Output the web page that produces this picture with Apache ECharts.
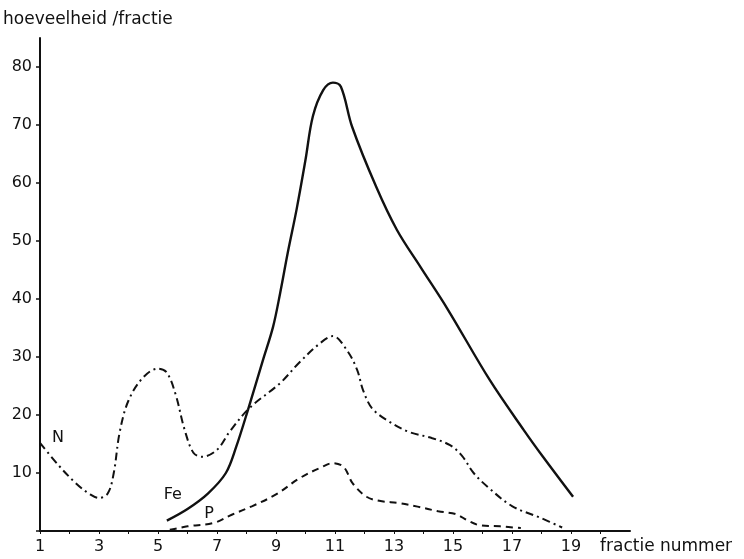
<!DOCTYPE html>
<html>
<head>
<meta charset="utf-8">
<script src="https://cdn.jsdelivr.net/npm/echarts@6/dist/echarts.min.js"></script>
<style>
  html, body { margin: 0; padding: 0; background: #fff; }
  #chart { width: 744px; height: 559px; }
</style>
</head>
<body>
<div id="chart"></div>
<script>
// Fraction number vs. amount per fraction for N, Fe and P
const feCurve = [
  [5.3, 1.8], [6.0, 3.8], [6.7, 6.5], [7.3, 10], [7.65, 14.5], [8.05, 20.9],
  [8.56, 29.5], [8.9, 35.2], [9.14, 41], [9.4, 48], [9.7, 55.5], [10.0, 64],
  [10.25, 71.5], [10.6, 76], [10.93, 77.3], [11.2, 76.6], [11.58, 69.7], [12.4, 59.3],
  [13.1, 51.9], [13.9, 45.5], [14.8, 38.4], [16.25, 26], [17.4, 17.4], [18.05, 12.8], [19.07, 5.9]
];
const nCurve = [
  [1, 15.2], [1.6, 11.5], [2.2, 8.3], [2.7, 6.3], [3.0, 5.7], [3.3, 6.5], [3.5, 10],
  [3.7, 17], [4.0, 22.5], [4.5, 26.5], [5.0, 28], [5.3, 27.3], [5.6, 23.5], [5.9, 17.5],
  [6.2, 13.5], [6.5, 12.8], [7.0, 14], [7.44, 17.2], [8.1, 21.2], [9.14, 25.5],
  [9.8, 29.1], [10.5, 32.4], [10.93, 33.6], [11.4, 31.2], [11.75, 27.8], [11.95, 24.3],
  [12.25, 21.2], [12.76, 19.1], [13.5, 17.1], [14.3, 16], [14.9, 14.8],
  [15.3, 13], [15.7, 10], [16.2, 7.5], [17.0, 4.3], [18.0, 2.2], [18.7, 0.6]
];
const pCurve = [
  [5.4, 0.2], [6.0, 0.8], [6.9, 1.4], [7.5, 2.8], [8.2, 4.3], [9.0, 6.3], [9.8, 9.1],
  [10.5, 10.9], [10.93, 11.7], [11.3, 11], [11.6, 8.2], [12.07, 5.9], [12.5, 5.2],
  [13.2, 4.8], [13.8, 4.2], [14.5, 3.4], [15.1, 2.9], [15.5, 1.8], [15.9, 1], [16.6, 0.8], [17.3, 0.5]
];
const xTickLabels = [1, 3, 5, 7, 9, 11, 13, 15, 17, 19];
const yTickLabels = [10, 20, 30, 40, 50, 60, 70, 80];
const curveNames = ['N', 'Fe', 'P'];
const nameAnchors = [[1.61, 16], [5.5, 6.2], [6.73, 2.9]];

const ink = '#111';
const font = 'DejaVu Sans';

const chart = echarts.init(document.getElementById('chart'), null, { renderer: 'canvas' });
const baseOption = {
  backgroundColor: '#fff',
  animation: false,
  grid: { left: 40, right: 114, top: 38, bottom: 28 },
  xAxis: {
    type: 'value', min: 1, max: 21, interval: 1,
    axisLine: { lineStyle: { color: ink, width: 2 } },
    axisTick: { show: true, length: 3, lineStyle: { color: ink, width: 1 } },
    splitLine: { show: false },
    axisLabel: {
      color: ink, fontFamily: font, fontSize: 16, margin: 8,
      showMaxLabel: false,
      formatter: v => xTickLabels.includes(v) ? String(v) : ''
    }
  },
  yAxis: {
    type: 'value', min: 0, max: 85, interval: 10,
    axisLine: { show: true, lineStyle: { color: ink, width: 2 } },
    axisTick: { show: true, length: 4, lineStyle: { color: ink, width: 1.5 } },
    splitLine: { show: false },
    axisLabel: {
      color: ink, fontFamily: font, fontSize: 16, margin: 8,
      showMaxLabel: false,
      formatter: v => yTickLabels.includes(v) ? String(v) : ''
    }
  },
  series: [
    {
      name: 'N', type: 'line', data: nCurve, showSymbol: false, smooth: 0.35,
      lineStyle: { color: ink, width: 2, type: [8, 4, 2, 4] }
    },
    {
      name: 'Fe', type: 'line', data: feCurve, showSymbol: false, smooth: 0.35,
      lineStyle: { color: ink, width: 2.4, type: 'solid' }
    },
    {
      name: 'P', type: 'line', data: pCurve, showSymbol: false, smooth: 0.35,
      lineStyle: { color: ink, width: 2, type: [7, 5] }
    }
  ]
};
chart.setOption(baseOption);

// Axis titles plus curve names placed at their data coordinates
const texts = [
  { type: 'text', left: 3, top: 11, style: { text: 'hoeveelheid /fractie', fill: ink, font: '17px "' + font + '"' } },
  { type: 'text', left: 600, top: 538, style: { text: 'fractie nummer', fill: ink, font: '17px "' + font + '"' } }
];
curveNames.forEach((name, i) => {
  const p = chart.convertToPixel({ gridIndex: 0 }, nameAnchors[i]);
  texts.push({
    type: 'text', x: p[0], y: p[1],
    style: { text: name, fill: ink, font: '16px "' + font + '"', align: 'center', verticalAlign: 'middle' }
  });
});
chart.setOption({ graphic: texts });
</script>
</body>
</html>
